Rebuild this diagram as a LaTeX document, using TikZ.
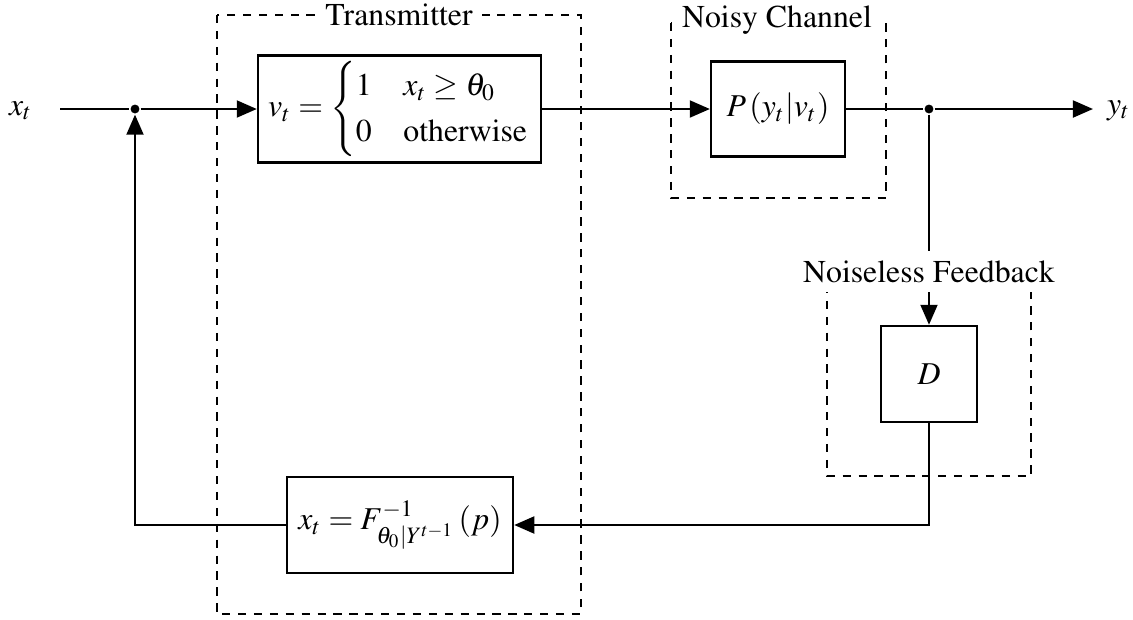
\documentclass[tikz,border=0pt]{standalone}
\usepackage{amsmath}
\usepackage[T1]{fontenc}
\usepackage{mathptmx}
\usetikzlibrary{arrows.meta}

\begin{document}
\begin{tikzpicture}[x=0.3145pt, y=-0.3145pt,
  line width=0.75pt,
  block/.style={draw, fill=white, inner sep=0pt, align=center},
  group/.style={dashed, line width=0.7pt, dash pattern=on 2.6pt off 2.4pt},
  grouplabel/.style={fill=white, inner sep=3pt, anchor=base},
  sig/.style={-{Triangle[length=6.3pt,width=5.3pt]}},
  joint/.style={circle, fill, inner sep=0pt, minimum size=2.8pt},
  io/.style={inner sep=0pt, anchor=base west}]

  % page frame
  \useasboundingbox (0,0) rectangle (1133,619);

  % dashed groupings
  \draw[group] (217,15) rectangle (581,614);
  \draw[group] (671,23) rectangle (886,198);
  \draw[group] (827,285) rectangle (1031,476);

  % processing blocks
  \node[block, minimum width=89pt, minimum height=33.6pt] (enc) at (399.5,109)
    {$v_t = \begin{cases} 1 & x_t \geq \theta_0 \\ 0 & \text{otherwise} \end{cases}$};
  \node[block, minimum width=42.1pt, minimum height=29.9pt] (chan) at (778,109)
    {$P\left(y_t \middle| v_t\right)$};
  \node[block, minimum width=30.2pt, minimum height=30.2pt] (dec) at (929,374) {$D$};
  \node[block, minimum width=71.1pt, minimum height=30.2pt] (inv) at (400,525)
    {$x_t = F^{-1}_{\theta_0|Y^{t-1}}\left(p\right)$};

  % input / output terminals and branch points
  \node[io] (xin) at (8,115) {$x_t$};
  \node[io] (yout) at (1106,114) {$y_t$};
  \coordinate (src) at (60,109);
  \coordinate (snk) at (1093,109);
  \node[joint] (j1) at (135,109) {};
  \node[joint] (j2) at (929,109) {};

  % signal flow
  \draw (src) -- (j1);
  \draw[sig] (j1) -- (enc.west);
  \draw[sig] (enc.east) -- (chan.west);
  \draw (chan.east) -- (j2);
  \draw[sig] (j2) -- (snk);
  \draw[sig] (j2) -- (dec.north);
  \draw[sig] (dec.south) |- (inv.east);
  \draw[sig] (inv.west) -| (j1);

  % group captions
  \node[grouplabel] (tx) at (399,25) {Transmitter};
  \node[grouplabel] (nc) at (777,27) {Noisy Channel};
  \node[grouplabel] (nf) at (929,282) {Noiseless Feedback};
\end{tikzpicture}
\end{document}
